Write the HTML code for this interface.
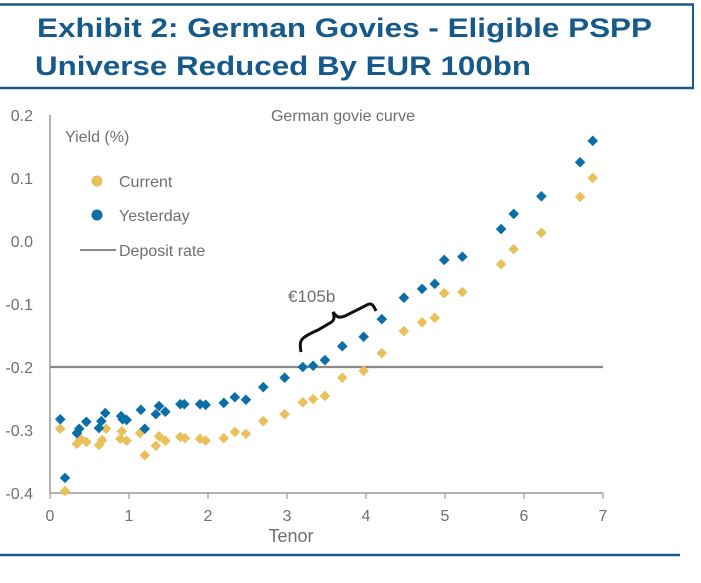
<!DOCTYPE html>
<html><head><meta charset="utf-8"><style>
body{margin:0;background:#fff;width:701px;height:578px;overflow:hidden;font-family:"Liberation Sans",sans-serif}
</style></head><body>
<svg width="701" height="578" xmlns="http://www.w3.org/2000/svg">
<g>
<line x1="0" y1="4.5" x2="694" y2="4.5" stroke="#1a5a8a" stroke-width="2.5"/>
<line x1="0" y1="88" x2="694" y2="88" stroke="#1a5a8a" stroke-width="2.5"/>
<line x1="693" y1="4" x2="693" y2="89" stroke="#1a5a8a" stroke-width="2"/>
<text x="37" y="37" font-size="26.5" font-weight="bold" fill="#165a8c" textLength="615" lengthAdjust="spacingAndGlyphs">Exhibit 2: German Govies - Eligible PSPP</text>
<text x="35" y="75" font-size="26.5" font-weight="bold" fill="#165a8c" textLength="496" lengthAdjust="spacingAndGlyphs">Universe Reduced By EUR 100bn</text>
</g>
<line x1="0" y1="555" x2="680" y2="555" stroke="#1a5a8a" stroke-width="2.5"/>
<g id="plot"></g>
</svg>
<script>
const tenorCurrent=[0.13,0.19,0.34,0.39,0.46,0.62,0.66,0.71,0.89,0.91,0.97,1.14,1.20,1.34,1.38,1.46,1.65,1.71,1.90,1.97,2.20,2.34,2.48,2.70,2.97,3.20,3.33,3.48,3.70,3.97,4.20,4.48,4.71,4.87,4.99,5.22,5.71,5.87,6.22,6.71,6.87];
const yieldCurrent=[-0.298,-0.397,-0.322,-0.314,-0.319,-0.324,-0.316,-0.298,-0.314,-0.302,-0.317,-0.305,-0.340,-0.325,-0.310,-0.317,-0.311,-0.313,-0.314,-0.317,-0.313,-0.303,-0.306,-0.286,-0.275,-0.256,-0.251,-0.246,-0.217,-0.206,-0.178,-0.143,-0.129,-0.122,-0.083,-0.081,-0.037,-0.013,0.013,0.070,0.100];
const tenorYesterday=[0.13,0.19,0.34,0.37,0.46,0.62,0.65,0.70,0.90,0.92,0.97,1.15,1.20,1.34,1.38,1.46,1.65,1.70,1.90,1.97,2.20,2.34,2.48,2.70,2.97,3.20,3.33,3.48,3.70,3.97,4.20,4.48,4.71,4.87,4.99,5.22,5.71,5.87,6.22,6.71,6.87];
const yieldYesterday=[-0.283,-0.376,-0.305,-0.298,-0.287,-0.297,-0.286,-0.273,-0.278,-0.283,-0.284,-0.268,-0.298,-0.275,-0.262,-0.271,-0.259,-0.259,-0.259,-0.260,-0.257,-0.248,-0.252,-0.232,-0.217,-0.200,-0.198,-0.189,-0.167,-0.152,-0.124,-0.090,-0.076,-0.068,-0.030,-0.025,0.019,0.043,0.071,0.125,0.159];
const xTicks=[0,1,2,3,4,5,6,7];
const yTicks=[0.2,0.1,0.0,-0.1,-0.2,-0.3,-0.4];
const yTickLabels=["0.2","0.1","0.0","-0.1","-0.2","-0.3","-0.4"];
const depositRate=[-0.2];

const X0=50,X1=603,Y0=493,Y1=115;
const xs=v=>X0+(v-0)/7*(X1-X0);
const ys=v=>Y0-(v+0.4)/0.6*(Y0-Y1);
const NS='http://www.w3.org/2000/svg';
const plot=document.getElementById('plot');
function mk(tag,attrs,parent){const e=document.createElementNS(NS,tag);for(const k in attrs)e.setAttribute(k,attrs[k]);(parent||plot).appendChild(e);return e;}
const gray='#6f6f6f';
let ax=mk('line',{x1:X0,y1:Y1,x2:X0,y2:Y0,stroke:'#999','stroke-width':1.5});


let axx=mk('line',{x1:X0,y1:Y0,x2:X1,y2:Y0,stroke:'#999','stroke-width':1.5});


xTicks.forEach(t=>{
  let tk=mk('line',{x1:xs(t),y1:Y0,x2:xs(t),y2:Y0+6,stroke:'#999','stroke-width':1.2});
  
  
  let tl=mk('text',{x:xs(t),y:Y0+28,'text-anchor':'middle','font-size':16,fill:gray});
  tl.textContent=t;
  
  
});
yTicks.forEach((t,i)=>{
  let tl=mk('text',{x:33,y:ys(t)+6,'text-anchor':'end','font-size':16,fill:gray});
  tl.textContent=yTickLabels[i];
  
  
});
let dl=mk('line',{x1:X0,y1:ys(depositRate[0]),x2:X1,y2:ys(depositRate[0]),stroke:'#8a8a8a','stroke-width':2.2});


function diamonds(tx,ty,color,name){
  tx.forEach((t,i)=>{
    const cx=xs(t),cy=ys(ty[i]),r=5.3;
    let p=mk('polygon',{points:`${cx},${cy-r} ${cx+r},${cy} ${cx},${cy+r} ${cx-r},${cy}`,fill:color});
    
    
  });
}
diamonds(tenorCurrent,yieldCurrent,'#e9c15c','point-current');
diamonds(tenorYesterday,yieldYesterday,'#0a6fa8','point-yesterday');
let br=mk('path',{d:'M301 352 C299 340 300 338 318 330 L330 323 C334 321 335 318 333 312 C337 318 340 318 345 316 L365 306 C371 302 373 304 376 311',fill:'none',stroke:'#111','stroke-width':3});


let bl=mk('text',{x:288,y:302,'font-size':17,fill:gray});
bl.textContent='€105b';


let ct=mk('text',{x:343,y:121,'text-anchor':'middle','font-size':16,fill:gray});
ct.textContent='German govie curve';


let yt=mk('text',{x:65,y:142,'font-size':16,fill:gray});
yt.textContent='Yield (%)';


let xt=mk('text',{x:291,y:542,'text-anchor':'middle','font-size':18,fill:gray});
xt.textContent='Tenor';


let c1=mk('circle',{cx:97,cy:181,r:5.5,fill:'#e9c15c'});


let t1=mk('text',{x:119,y:187,'font-size':16,fill:gray});t1.textContent='Current';


let c2=mk('circle',{cx:97,cy:215,r:5.5,fill:'#0a6fa8'});


let t2=mk('text',{x:119,y:221,'font-size':16,fill:gray});t2.textContent='Yesterday';


let l3=mk('line',{x1:80,y1:250,x2:116,y2:250,stroke:'#8a8a8a','stroke-width':2});


let t3=mk('text',{x:119,y:256,'font-size':16,fill:gray});t3.textContent='Deposit rate';


</script>
</body></html>
